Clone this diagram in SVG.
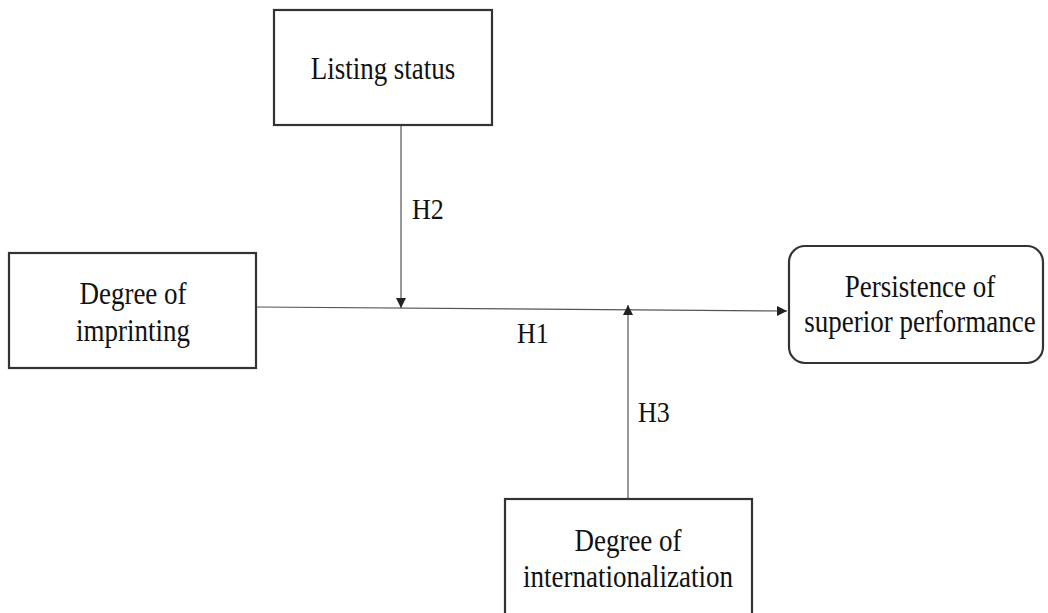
<svg xmlns="http://www.w3.org/2000/svg" width="1048" height="613" viewBox="0 0 1048 613">
<style>
.box{fill:#fff;stroke:#333;stroke-width:2.2}
.t{font-family:"Liberation Serif","Times New Roman",serif;font-size:27px;fill:#111;text-anchor:middle}
.lbl{font-family:"Liberation Serif","Times New Roman",serif;font-size:26px;fill:#111}
.c{stroke:#555;stroke-width:1.2;fill:none}
</style>
<defs>
<marker id="ah" viewBox="0 0 10 10" refX="10" refY="5" markerWidth="10" markerHeight="10" markerUnits="userSpaceOnUse" orient="auto">
<path d="M0,0 L10,5 L0,10 z" fill="#222"/>
</marker>
</defs>
<rect width="1048" height="613" fill="#fff"/>
<g id="connectors">
<path class="c" d="M257,307 L787,311" marker-end="url(#ah)"/>
<path class="c" d="M401,125 L401,308" marker-end="url(#ah)"/>
<path class="c" d="M628,498 L628,305" marker-end="url(#ah)"/>
<text class="lbl" transform="translate(412 219) scale(1 1.15)">H2</text>
<text class="lbl" transform="translate(517 343) scale(1 1.15)">H1</text>
<text class="lbl" transform="translate(638 422) scale(1 1.15)">H3</text>
</g>
<g id="listing">
<rect class="box" x="274" y="10" width="218" height="115"/>
<text class="t" transform="translate(383 79) scale(1 1.15)">Listing status</text>
</g>
<g id="imprinting">
<rect class="box" x="9" y="253" width="247" height="115"/>
<text class="t" transform="translate(133 304) scale(1 1.15)">Degree of</text>
<text class="t" transform="translate(133 341) scale(1 1.15)">imprinting</text>
</g>
<g id="persistence">
<rect class="box" x="789" y="246" width="254" height="117" rx="16" ry="16"/>
<text class="t" transform="translate(920 297) scale(1 1.15)">Persistence of</text>
<text class="t" transform="translate(920 332) scale(1 1.15)">superior performance</text>
</g>
<g id="internationalization">
<rect class="box" x="505" y="499" width="247" height="130"/>
<text class="t" transform="translate(628 551) scale(1 1.15)">Degree of</text>
<text class="t" transform="translate(628 587) scale(1 1.15)">internationalization</text>
</g>
</svg>
